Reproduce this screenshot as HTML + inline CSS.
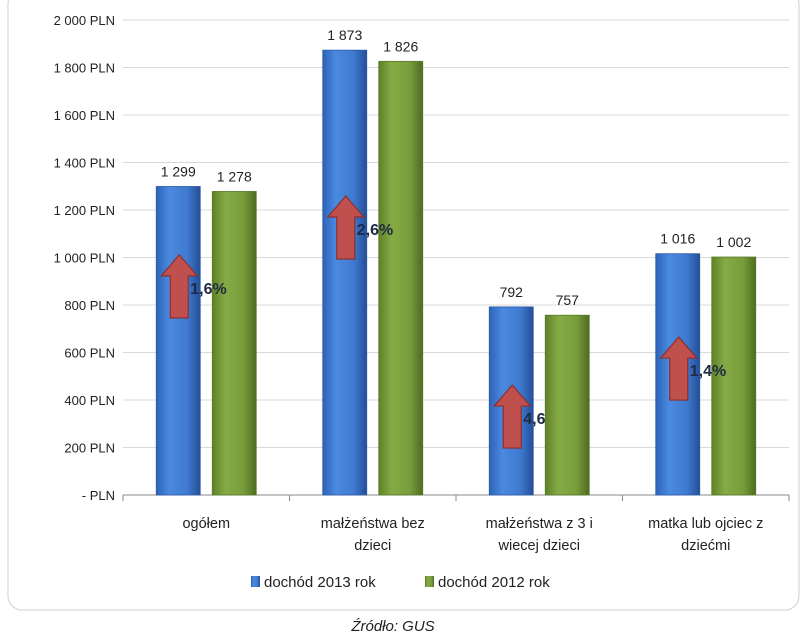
<!DOCTYPE html>
<html><head><meta charset="utf-8"><style>
body{margin:0;background:#fff;width:805px;height:639px;overflow:hidden;font-family:"Liberation Sans",sans-serif}
</style></head><body>
<svg width="805" height="639">
<defs>
<linearGradient id="gb" x1="0" x2="1"><stop offset="0" stop-color="#2d63b8"/><stop offset="0.3" stop-color="#4a8ae0"/><stop offset="0.7" stop-color="#3f7ad0"/><stop offset="1" stop-color="#244f96"/></linearGradient>
<linearGradient id="gg" x1="0" x2="1"><stop offset="0" stop-color="#5f8128"/><stop offset="0.3" stop-color="#85ab45"/><stop offset="0.7" stop-color="#789e3c"/><stop offset="1" stop-color="#4f6c20"/></linearGradient>
</defs>
<rect x="8" y="-10" width="791" height="620" rx="14" fill="#fff" stroke="#d0d0d0"/>
<g id="grid"></g><g id="bars"></g><g id="labels"></g>
<g font-size="15" fill="#222">
<rect x="251" y="576" width="9" height="11" fill="url(#gb)"/>
<text x="264" y="587">dochód 2013 rok</text>
<rect x="425" y="576" width="9" height="11" fill="url(#gg)"/>
<text x="438" y="587">dochód 2012 rok</text>
</g>
<text x="393" y="631" text-anchor="middle" font-size="15" font-style="italic" fill="#222">Źródło: GUS</text>
</svg>
<script>
const categories=[["ogółem"],["małżeństwa  bez","dzieci"],["małżeństwa  z 3 i","wiecej dzieci"],["matka lub ojciec z","dziećmi"]];
const values2013=[1299,1873,792,1016];
const values2012=[1278,1826,757,1002];
const changeLabels=["1,6%","2,6%","4,6","1,4%"];
const changeLevels=[872,1120,324,526];
const yTicks=[0,200,400,600,800,1000,1200,1400,1600,1800,2000];
const ns="http://www.w3.org/2000/svg";
const x0=123,x1=789,yB=495,yT=20,yMax=2000;
const y=v=>yB-(v/yMax)*(yB-yT);
const cw=(x1-x0)/categories.length;
const cx=i=>x0+cw*(i+0.5);
function mk(t,a,p){const e=document.createElementNS(ns,t);for(const k in a)e.setAttribute(k,a[k]);p.appendChild(e);return e;}
const fmt=v=>v>=1000?Math.floor(v/1000)+" "+String(v%1000).padStart(3,"0"):String(v);
const G=document.getElementById("grid"),B=document.getElementById("bars"),L=document.getElementById("labels");
yTicks.forEach(t=>{
 if(t>0){const l=mk("line",{x1:x0,x2:x1,y1:y(t),y2:y(t),stroke:"#d9d9d9"},G);
 
 }
 const tx=mk("text",{x:x0-8,y:y(t)+5,"text-anchor":"end","font-size":"13",fill:"#222"},G);
 tx.textContent=t===0?"- PLN":fmt(t)+" PLN";
 
 
});
const ax=mk("line",{x1:x0,x2:x1,y1:yB,y2:yB,stroke:"#888"},G);


for(let i=0;i<=categories.length;i++){const tk=mk("line",{x1:x0+cw*i,x2:x0+cw*i,y1:yB,y2:yB+6,stroke:"#888"},G);
 
 }
const bw=44;
categories.forEach((c,i)=>{
 const c0=cx(i);
 [[values2013[i],c0-50,"url(#gb)","#2a5aa8"],[values2012[i],c0+6,"url(#gg)","#577a25"]].forEach((d,j)=>{
  const r=mk("rect",{x:d[1],y:y(d[0]),width:bw,height:yB-y(d[0]),fill:d[2],stroke:d[3],"stroke-width":"0.8"},B);
  
  
  const t=mk("text",{x:d[1]+bw/2,y:y(d[0])-10,"text-anchor":"middle","font-size":"14",fill:"#222"},L);
  t.textContent=fmt(d[0]);
  
  
 });
 c.forEach((ln,k)=>{const t=mk("text",{x:c0,y:yB+33+k*22,"text-anchor":"middle","font-size":"14.5",fill:"#222"},L);
  t.textContent=ln;
  
  });
 const ay=y(changeLevels[i]),axc=c0-27;
 const a=mk("polygon",{points:`${axc},${ay-33} ${axc+18},${ay-12} ${axc+9},${ay-12} ${axc+9},${ay+30} ${axc-9},${ay+30} ${axc-9},${ay-12} ${axc-18},${ay-12}`,fill:"#c0504d",stroke:"#8f2f2c","stroke-width":"1.2"},L);
 
 
 const ct=mk("text",{x:axc+11,y:ay+6,"font-size":"16","font-weight":"bold",fill:"#1f2a44"},L);
 ct.textContent=changeLabels[i];
 
 
});
</script>
</body></html>
